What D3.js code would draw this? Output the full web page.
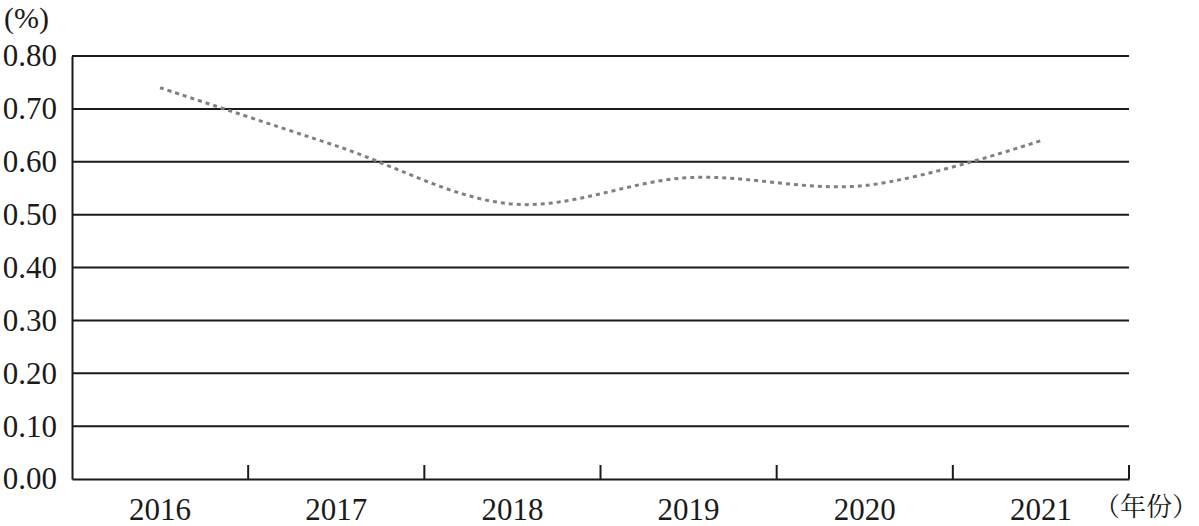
<!DOCTYPE html>
<html><head><meta charset="utf-8">
<script src="https://cdn.jsdelivr.net/npm/d3@7"></script>
<style>body{margin:0;background:#fff}svg{display:block}</style>
</head><body>
<svg id="c" width="1199" height="526"></svg>
<script>
const categories = ["2016","2017","2018","2019","2020","2021"];
const values = [0.74, 0.63, 0.52, 0.57, 0.555, 0.64];
const yTicks = [0,0.1,0.2,0.3,0.4,0.5,0.6,0.7,0.8];
const yUnit = "(%)";
const xUnit = "（年份）";

const svg = d3.select("#c");
const L = 72, R = 1129, T = 56, B = 479;
const SERIF = '"Liberation Serif"';
const x = d3.scaleBand().domain(categories).range([L, R]);
const y = d3.scaleLinear().domain([0, 0.8]).range([B, T]);

// gridlines
svg.append("g").selectAll("line").data(yTicks.filter(d => d > 0)).join("line")
  .attr("x1", L).attr("x2", R).attr("y1", d => y(d)).attr("y2", d => y(d))
  .attr("stroke", "#1a1a1a").attr("stroke-width", 2);

// y axis
const ya = svg.append("g").attr("transform", `translate(${L},0)`)
  .call(d3.axisLeft(y).tickValues(yTicks).tickSize(0).tickPadding(15).tickFormat(d3.format(".2f")));
ya.select(".domain").attr("stroke", "#1a1a1a").attr("stroke-width", 2);
ya.selectAll("text").style("font-family", SERIF).style("font-size", "31px").attr("fill", "#1a1a1a");

// x axis
const xa = svg.append("g").attr("transform", `translate(0,${B})`)
  .call(d3.axisBottom(x).tickSize(0).tickPadding(19));
xa.select(".domain").attr("stroke", "#1a1a1a").attr("stroke-width", 2);
xa.selectAll("text").style("font-family", SERIF).style("font-size", "31px").attr("fill", "#1a1a1a").attr("dy", "0.72em");
// upward ticks at band boundaries
svg.append("g").selectAll("line").data(categories).join("line")
  .attr("x1", d => x(d) + x.bandwidth()).attr("x2", d => x(d) + x.bandwidth())
  .attr("y1", B).attr("y2", B - 14)
  .attr("stroke", "#1a1a1a").attr("stroke-width", 2);

// line
const line = d3.line()
  .x((d, i) => x(categories[i]) + x.bandwidth() / 2)
  .y(d => y(d))
  .curve(d3.curveCatmullRom.alpha(0.5));
svg.append("path").datum(values).attr("d", line)
  .attr("fill", "none").attr("stroke", "#808080").attr("stroke-width", 3)
  .attr("stroke-dasharray", "4,4");

// units
svg.append("text").attr("x", 4).attr("y", 28).text(yUnit)
  .style("font-family", SERIF).style("font-size", "30px").attr("fill", "#1a1a1a");
svg.append("text").attr("x", 1198).attr("y", 516).attr("text-anchor", "end").text(xUnit)
  .style("font-family", '"Noto Serif CJK SC","Noto Sans CJK SC"').style("font-size", "26px").attr("fill", "#1a1a1a");
</script>
</body></html>
